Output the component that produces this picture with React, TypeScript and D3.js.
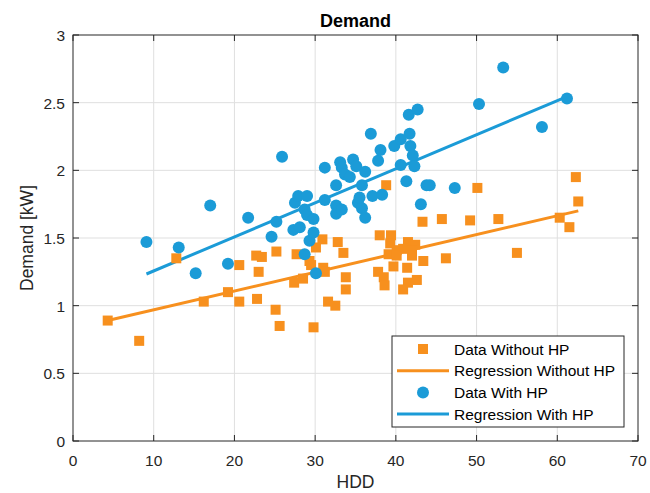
import React from 'react';
import * as d3 from 'd3';

// values
const withoutHpX = [4.3, 8.2, 12.8, 16.2, 19.2, 20.6, 20.6, 22.7, 23.4, 23.0, 22.8, 25.2, 25.1, 25.6, 27.7, 27.4, 28.5, 29.3, 29.5, 30.1, 30.9, 29.8, 31.0, 31.2, 31.6, 32.5, 32.8, 33.5, 33.8, 33.8, 38.0, 39.4, 39.3, 41.5, 42.4, 40.1, 40.9, 42.0, 39.1, 40.1, 42.0, 43.4, 46.2, 39.7, 41.4, 37.8, 38.5, 38.6, 42.6, 41.5, 40.9, 38.8, 43.3, 45.7, 49.2, 50.1, 52.7, 55.0, 60.3, 61.5, 62.3, 62.6];
const withoutHpY = [0.89, 0.74, 1.35, 1.03, 1.10, 1.30, 1.03, 1.37, 1.36, 1.25, 1.05, 1.40, 0.97, 0.85, 1.38, 1.17, 1.20, 1.33, 1.30, 1.43, 1.49, 0.84, 1.28, 1.25, 1.03, 1.00, 1.47, 1.39, 1.21, 1.12, 1.52, 1.52, 1.46, 1.47, 1.45, 1.41, 1.42, 1.41, 1.38, 1.37, 1.37, 1.33, 1.35, 1.29, 1.28, 1.25, 1.21, 1.15, 1.19, 1.17, 1.12, 1.89, 1.62, 1.64, 1.63, 1.87, 1.64, 1.39, 1.65, 1.58, 1.95, 1.77];

const withHpX = [9.1, 13.1, 15.2, 17.0, 19.2, 21.7, 24.6, 25.2, 25.9, 27.3, 27.5, 27.9, 28.1, 28.7, 28.7, 29.0, 29.0, 29.3, 29.8, 29.8, 30.1, 31.2, 31.2, 32.6, 32.6, 32.6, 33.1, 33.3, 33.3, 33.7, 34.3, 34.7, 35.1, 35.3, 35.5, 35.8, 35.8, 36.2, 36.2, 36.9, 37.1, 37.8, 38.1, 38.3, 39.8, 40.6, 40.6, 41.3, 41.6, 41.7, 41.8, 42.1, 42.3, 42.7, 43.1, 43.8, 44.2, 47.3, 50.3, 53.3, 58.1, 61.2];
const withHpY = [1.47, 1.43, 1.24, 1.74, 1.31, 1.65, 1.51, 1.62, 2.10, 1.56, 1.76, 1.81, 1.58, 1.71, 1.38, 1.81, 1.67, 1.48, 1.64, 1.54, 1.24, 2.02, 1.78, 1.89, 1.74, 1.68, 2.06, 2.02, 1.71, 1.97, 1.95, 2.08, 2.03, 1.76, 1.80, 1.72, 1.89, 1.99, 1.65, 2.27, 1.81, 2.07, 2.15, 1.82, 2.18, 2.23, 2.04, 1.92, 2.41, 2.27, 2.18, 2.11, 2.03, 2.45, 1.75, 1.89, 1.89, 1.87, 2.49, 2.76, 2.32, 2.53];

// regression [intercept, slope]
const fitWithoutHp = [0.830, 0.0139];
const fitWithHp = [1.005, 0.02516];

const xTicks = [0, 10, 20, 30, 40, 50, 60, 70];
const yTicks = [0, 0.5, 1, 1.5, 2, 2.5, 3];

const legendLabels = ['Data Without HP', 'Regression Without HP', 'Data With HP', 'Regression With HP'];

const ORANGE = '#f7901e';
const BLUE = '#1b9bd7';
const AXIS = '#262626';
const FONT = '"Liberation Sans", Arial, sans-serif';

const width = 650;
const height = 493;
const margin = { top: 35, right: 12, bottom: 52, left: 73 };

export default function App() {
  const x = d3.scaleLinear().domain([0, 70]).range([margin.left, width - margin.right]);
  const y = d3.scaleLinear().domain([0, 3]).range([height - margin.bottom, margin.top]);

  const line = d3.line<number>().x(d => x(d[0])).y(d => y(d[1]));
  const fitLine = (xs: number[], fit: number[]) => {
    const [lo, hi] = d3.extent(xs) as [number, number];
    return line([[lo, fit[0] + fit[1] * lo], [hi, fit[0] + fit[1] * hi]] as any);
  };

  const x0 = x(0), x1 = x(70), y0 = y(0), y1 = y(3);
  const tick = 6;

  const lg = { x: 392, y: 336, w: 232, h: 91 };
  const rowY = (i: number) => lg.y + 13 + i * 21.7;

  return (
    <svg width={width} height={height} style={{ position: 'absolute', left: 0, top: 0, background: '#fff' }} fontFamily={FONT}>
      <rect width={width} height={height} fill="#fff" />
      {/* grid */}
      <g stroke="#dfdfdf" strokeWidth={1}>
        {xTicks.slice(1, -1).map(t => <line key={'gx' + t} x1={x(t)} x2={x(t)} y1={y0} y2={y1} />)}
        {yTicks.slice(1, -1).map(t => <line key={'gy' + t} x1={x0} x2={x1} y1={y(t)} y2={y(t)} />)}
      </g>

      {/* data */}
      <path d={fitLine(withHpX, fitWithHp) || ''} stroke={BLUE} strokeWidth={3} fill="none" />
      <path d={fitLine(withoutHpX, fitWithoutHp) || ''} stroke={ORANGE} strokeWidth={3} fill="none" />
      <g fill={ORANGE}>
        {withoutHpX.map((v, i) => <rect key={'o' + i} x={x(v) - 5} y={y(withoutHpY[i]) - 5} width={10} height={10} />)}
      </g>
      <g fill={BLUE}>
        {withHpX.map((v, i) => <circle key={'b' + i} cx={x(v)} cy={y(withHpY[i])} r={6} />)}
      </g>

      {/* axes box and ticks */}
      <g stroke={AXIS} strokeWidth={1} fill="none">
        <rect x={x0} y={y1} width={x1 - x0} height={y0 - y1} />
        {xTicks.map(t => (
          <g key={'tx' + t}>
            <line x1={x(t)} x2={x(t)} y1={y0} y2={y0 - tick} />
            <line x1={x(t)} x2={x(t)} y1={y1} y2={y1 + tick} />
          </g>
        ))}
        {yTicks.map(t => (
          <g key={'ty' + t}>
            <line x1={x0} x2={x0 + tick} y1={y(t)} y2={y(t)} />
            <line x1={x1} x2={x1 - tick} y1={y(t)} y2={y(t)} />
          </g>
        ))}
      </g>
      <g fill={AXIS} fontSize={15.5}>
        {xTicks.map(t => <text key={'lx' + t} x={x(t)} y={y0 + 25} textAnchor="middle">{t}</text>)}
        {yTicks.map(t => <text key={'ly' + t} x={x0 - 8} y={y(t) + 6} textAnchor="end">{t}</text>)}
      </g>
      <text x={(x0 + x1) / 2} y={y0 + 47} textAnchor="middle" fontSize={17.5} fill={AXIS}>HDD</text>
      <text transform={`translate(${x0 - 40},${(y0 + y1) / 2}) rotate(-90)`} textAnchor="middle" fontSize={17.5} fill={AXIS}>Demand [kW]</text>
      <text x={(x0 + x1) / 2} y={y1 - 8} textAnchor="middle" fontSize={18} fontWeight="bold" fill="#000">Demand</text>

      {/* legend */}
      <rect x={lg.x} y={lg.y} width={lg.w} height={lg.h} fill="#fff" stroke={AXIS} strokeWidth={1} />
      <rect x={423 - 5} y={rowY(0) - 5} width={10} height={10} fill={ORANGE} />
      <line x1={397} x2={449} y1={rowY(1)} y2={rowY(1)} stroke={ORANGE} strokeWidth={3} />
      <circle cx={423} cy={rowY(2)} r={6} fill={BLUE} />
      <line x1={397} x2={449} y1={rowY(3)} y2={rowY(3)} stroke={BLUE} strokeWidth={3} />
      <g fontSize={15.5} fill="#000">
        {legendLabels.map((l, i) => <text key={l} x={454} y={rowY(i) + 5.5}>{l}</text>)}
      </g>
    </svg>
  );
}
